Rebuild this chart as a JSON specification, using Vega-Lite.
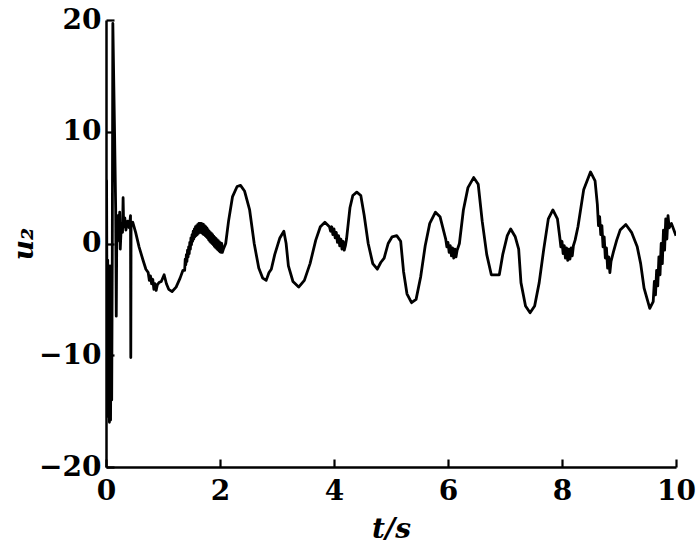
{
  "$schema": "https://vega.github.io/schema/vega-lite/v6.json",
  "autosize": "none",
  "width": 570,
  "height": 447,
  "padding": {"left": 106, "top": 20, "right": 24, "bottom": 80},
  "background": "white",
  "config": {
    "view": {"stroke": null},
    "axis": {
      "grid": false,
      "domainColor": "black",
      "domainWidth": 2.5,
      "tickColor": "black",
      "tickWidth": 2.2,
      "tickSize": -8,
      "labelFont": "DejaVu Serif",
      "labelFontWeight": "bold",
      "labelFontSize": 28,
      "labelColor": "black",
      "titleFont": "DejaVu Serif",
      "titleFontWeight": "bold",
      "titleFontSize": 28,
      "titleColor": "black"
    }
  },
  "data": {
    "values": [
      {"t": 0.0, "u": 0}, {"t": 0.01, "u": 5.6}, {"t": 0.02, "u": -10}, {"t": 0.03, "u": -1.5},
      {"t": 0.04, "u": -15.5}, {"t": 0.05, "u": -3}, {"t": 0.06, "u": -16}, {"t": 0.07, "u": -2},
      {"t": 0.08, "u": -15.8}, {"t": 0.09, "u": -5}, {"t": 0.1, "u": -14}, {"t": 0.11, "u": -1.5},
      {"t": 0.12, "u": 19.7}, {"t": 0.15, "u": 10}, {"t": 0.17, "u": 3}, {"t": 0.18, "u": -6.5},
      {"t": 0.19, "u": 1.5}, {"t": 0.2, "u": 0.2}, {"t": 0.21, "u": 2.5}, {"t": 0.225, "u": 1.0},
      {"t": 0.24, "u": 2.8}, {"t": 0.25, "u": -0.5}, {"t": 0.27, "u": 1.8}, {"t": 0.29, "u": 1.0},
      {"t": 0.3, "u": 4.1}, {"t": 0.31, "u": 1.5}, {"t": 0.33, "u": 2.3}, {"t": 0.35, "u": 1.2},
      {"t": 0.38, "u": 2.0}, {"t": 0.41, "u": 1.4}, {"t": 0.43, "u": 2.5}, {"t": 0.435, "u": -10.2},
      {"t": 0.44, "u": 1.8}, {"t": 0.47, "u": 1.9}, {"t": 0.52, "u": 1.0}, {"t": 0.58, "u": -0.3},
      {"t": 0.65, "u": -1.5}, {"t": 0.7, "u": -2.3}, {"t": 0.74, "u": -2.6}, {"t": 0.76, "u": -3.3},
      {"t": 0.78, "u": -2.9}, {"t": 0.8, "u": -3.6}, {"t": 0.82, "u": -3.2}, {"t": 0.84, "u": -4.1},
      {"t": 0.86, "u": -3.6}, {"t": 0.88, "u": -4.2}, {"t": 0.9, "u": -3.7}, {"t": 0.93, "u": -3.5},
      {"t": 0.97, "u": -3.4}, {"t": 1.02, "u": -2.8}, {"t": 1.06, "u": -3.6}, {"t": 1.1, "u": -4.1},
      {"t": 1.16, "u": -4.3}, {"t": 1.23, "u": -3.9}, {"t": 1.3, "u": -3.1}, {"t": 1.35, "u": -2.4},
      {"t": 1.38, "u": -2.4}, {"t": 1.39, "u": -1.4}, {"t": 1.4, "u": -1.9}, {"t": 1.41, "u": -1.0},
      {"t": 1.42, "u": -1.6}, {"t": 1.43, "u": -0.6}, {"t": 1.44, "u": -1.2}, {"t": 1.45, "u": -0.3},
      {"t": 1.46, "u": -0.9}, {"t": 1.47, "u": 0.1}, {"t": 1.48, "u": -0.5}, {"t": 1.49, "u": 0.5},
      {"t": 1.5, "u": -0.1}, {"t": 1.51, "u": 0.8}, {"t": 1.52, "u": 0.2}, {"t": 1.53, "u": 1.1},
      {"t": 1.54, "u": 0.4}, {"t": 1.55, "u": 1.3}, {"t": 1.56, "u": 0.6}, {"t": 1.57, "u": 1.5},
      {"t": 1.58, "u": 0.7}, {"t": 1.59, "u": 1.6}, {"t": 1.6, "u": 0.8}, {"t": 1.61, "u": 1.7},
      {"t": 1.62, "u": 0.9}, {"t": 1.63, "u": 1.8}, {"t": 1.64, "u": 1.0}, {"t": 1.65, "u": 1.8},
      {"t": 1.66, "u": 1.0}, {"t": 1.67, "u": 1.8}, {"t": 1.68, "u": 0.95}, {"t": 1.69, "u": 1.75},
      {"t": 1.7, "u": 0.85}, {"t": 1.71, "u": 1.7}, {"t": 1.72, "u": 0.8}, {"t": 1.73, "u": 1.6},
      {"t": 1.74, "u": 0.7}, {"t": 1.75, "u": 1.5}, {"t": 1.76, "u": 0.6}, {"t": 1.77, "u": 1.4},
      {"t": 1.78, "u": 0.5}, {"t": 1.79, "u": 1.25}, {"t": 1.8, "u": 0.35}, {"t": 1.81, "u": 1.1},
      {"t": 1.82, "u": 0.2}, {"t": 1.83, "u": 1.0}, {"t": 1.84, "u": 0.1}, {"t": 1.85, "u": 0.9},
      {"t": 1.86, "u": 0.0}, {"t": 1.87, "u": 0.8}, {"t": 1.88, "u": -0.1}, {"t": 1.89, "u": 0.65},
      {"t": 1.9, "u": -0.25}, {"t": 1.91, "u": 0.55}, {"t": 1.92, "u": -0.35}, {"t": 1.93, "u": 0.45},
      {"t": 1.94, "u": -0.45}, {"t": 1.95, "u": 0.35}, {"t": 1.96, "u": -0.55}, {"t": 1.97, "u": 0.25},
      {"t": 1.98, "u": -0.65}, {"t": 1.99, "u": 0.15}, {"t": 2.0, "u": -0.75}, {"t": 2.01, "u": 0.05},
      {"t": 2.02, "u": -0.8}, {"t": 2.03, "u": 0.0}, {"t": 2.04, "u": -0.8}, {"t": 2.06, "u": -0.5},
      {"t": 2.1, "u": 0.0},
      {"t": 2.15, "u": 2.0}, {"t": 2.22, "u": 4.2}, {"t": 2.3, "u": 5.1}, {"t": 2.36, "u": 5.2},
      {"t": 2.43, "u": 4.7}, {"t": 2.52, "u": 3.0}, {"t": 2.6, "u": 0.0}, {"t": 2.68, "u": -2.2},
      {"t": 2.75, "u": -3.1}, {"t": 2.81, "u": -3.3}, {"t": 2.86, "u": -2.6}, {"t": 2.9, "u": -2.3},
      {"t": 2.96, "u": -1.0}, {"t": 3.05, "u": 0.5}, {"t": 3.12, "u": 1.1}, {"t": 3.16, "u": 0.0},
      {"t": 3.2, "u": -2.0}, {"t": 3.28, "u": -3.4}, {"t": 3.38, "u": -3.9}, {"t": 3.48, "u": -3.3},
      {"t": 3.58, "u": -1.8}, {"t": 3.68, "u": 0.3}, {"t": 3.76, "u": 1.5}, {"t": 3.84, "u": 1.9},
      {"t": 3.92, "u": 1.5}, {"t": 3.94, "u": 1.1}, {"t": 3.96, "u": 1.5}, {"t": 3.98, "u": 0.8},
      {"t": 4.0, "u": 1.3}, {"t": 4.02, "u": 0.5}, {"t": 4.04, "u": 1.0}, {"t": 4.06, "u": 0.1},
      {"t": 4.08, "u": 0.7}, {"t": 4.1, "u": -0.2}, {"t": 4.12, "u": 0.4}, {"t": 4.14, "u": -0.5},
      {"t": 4.16, "u": 0.2}, {"t": 4.18, "u": -0.6}, {"t": 4.2, "u": -0.2}, {"t": 4.22, "u": 0.4},
      {"t": 4.25, "u": 1.8},
      {"t": 4.28, "u": 3.2}, {"t": 4.33, "u": 4.3}, {"t": 4.4, "u": 4.6}, {"t": 4.47, "u": 4.3},
      {"t": 4.53, "u": 2.5}, {"t": 4.6, "u": 0.0}, {"t": 4.68, "u": -1.8}, {"t": 4.76, "u": -2.3},
      {"t": 4.82, "u": -1.7}, {"t": 4.88, "u": -1.3}, {"t": 4.95, "u": 0.0}, {"t": 5.02, "u": 0.6},
      {"t": 5.1, "u": 0.7}, {"t": 5.17, "u": 0.2}, {"t": 5.22, "u": -2.5}, {"t": 5.28, "u": -4.5},
      {"t": 5.36, "u": -5.3}, {"t": 5.44, "u": -5.0}, {"t": 5.52, "u": -3.0}, {"t": 5.6, "u": -0.2},
      {"t": 5.68, "u": 1.8}, {"t": 5.78, "u": 2.8}, {"t": 5.86, "u": 2.4}, {"t": 5.93, "u": 1.0},
      {"t": 5.96, "u": 0.4}, {"t": 5.98, "u": -0.3}, {"t": 6.0, "u": 0.1}, {"t": 6.02, "u": -0.8},
      {"t": 6.04, "u": -0.2}, {"t": 6.06, "u": -1.1}, {"t": 6.08, "u": -0.4}, {"t": 6.1, "u": -1.3},
      {"t": 6.12, "u": -0.5}, {"t": 6.14, "u": -1.2}, {"t": 6.16, "u": -0.6},
      {"t": 6.2, "u": 0.0}, {"t": 6.27, "u": 3.0}, {"t": 6.35, "u": 5.0}, {"t": 6.45, "u": 5.9},
      {"t": 6.53, "u": 5.3}, {"t": 6.6, "u": 2.0}, {"t": 6.68, "u": -1.0}, {"t": 6.76, "u": -2.8},
      {"t": 6.9, "u": -2.8}, {"t": 6.96, "u": -1.0}, {"t": 7.04, "u": 0.7}, {"t": 7.1, "u": 1.3},
      {"t": 7.18, "u": 0.6}, {"t": 7.24, "u": -0.5}, {"t": 7.28, "u": -3.5}, {"t": 7.36, "u": -5.6},
      {"t": 7.44, "u": -6.2}, {"t": 7.52, "u": -5.6}, {"t": 7.6, "u": -3.5}, {"t": 7.68, "u": -0.5},
      {"t": 7.76, "u": 2.2}, {"t": 7.84, "u": 3.0}, {"t": 7.92, "u": 2.2}, {"t": 7.96, "u": 0.6},
      {"t": 7.98, "u": -0.3}, {"t": 8.0, "u": 0.2}, {"t": 8.02, "u": -0.9}, {"t": 8.04, "u": -0.2},
      {"t": 8.06, "u": -1.3}, {"t": 8.08, "u": -0.4}, {"t": 8.1, "u": -1.5}, {"t": 8.12, "u": -0.5},
      {"t": 8.14, "u": -1.4}, {"t": 8.16, "u": -0.4}, {"t": 8.18, "u": -1.1}, {"t": 8.2, "u": -0.2},
      {"t": 8.23, "u": 0.3}, {"t": 8.28, "u": 1.5}, {"t": 8.38, "u": 4.8}, {"t": 8.5, "u": 6.4},
      {"t": 8.58, "u": 5.6}, {"t": 8.62, "u": 3.5}, {"t": 8.64, "u": 1.6}, {"t": 8.66, "u": 2.4},
      {"t": 8.68, "u": 0.8}, {"t": 8.7, "u": 1.6}, {"t": 8.72, "u": -0.3}, {"t": 8.74, "u": 0.6},
      {"t": 8.76, "u": -1.3}, {"t": 8.78, "u": -0.4}, {"t": 8.8, "u": -2.2}, {"t": 8.82, "u": -1.2},
      {"t": 8.84, "u": -2.6}, {"t": 8.86, "u": -1.6}, {"t": 8.9, "u": -0.8}, {"t": 8.96, "u": 0.3},
      {"t": 9.02, "u": 1.2}, {"t": 9.12, "u": 1.7}, {"t": 9.22, "u": 1.0}, {"t": 9.32, "u": -0.3},
      {"t": 9.38, "u": -1.8}, {"t": 9.44, "u": -4.0}, {"t": 9.54, "u": -5.8}, {"t": 9.6, "u": -5.2},
      {"t": 9.62, "u": -3.4}, {"t": 9.64, "u": -4.6}, {"t": 9.66, "u": -2.4}, {"t": 9.68, "u": -3.8},
      {"t": 9.7, "u": -1.2}, {"t": 9.72, "u": -2.8}, {"t": 9.74, "u": 0.0}, {"t": 9.76, "u": -1.8},
      {"t": 9.78, "u": 1.2}, {"t": 9.8, "u": -0.6}, {"t": 9.82, "u": 2.2}, {"t": 9.84, "u": 0.4},
      {"t": 9.86, "u": 2.5}, {"t": 9.88, "u": 1.4}, {"t": 9.92, "u": 1.8},
      {"t": 10.0, "u": 0.7}
    ]
  },
  "mark": {"type": "line", "color": "black", "strokeWidth": 2.8, "strokeJoin": "round", "clip": true},
  "encoding": {
    "x": {
      "field": "t", "type": "quantitative",
      "scale": {"domain": [0, 10], "nice": false},
      "axis": {"values": [0, 2, 4, 6, 8, 10], "title": "t/s", "titleFontStyle": "italic", "labelPadding": 18, "titlePadding": 10, "labelFlush": false}
    },
    "y": {
      "field": "u", "type": "quantitative",
      "scale": {"domain": [-20, 20], "nice": false},
      "axis": {"values": [-20, -10, 0, 10, 20], "title": "u₂", "titleFontStyle": "italic", "labelPadding": 13, "titlePadding": 0, "labelFlush": false}
    }
  }
}
